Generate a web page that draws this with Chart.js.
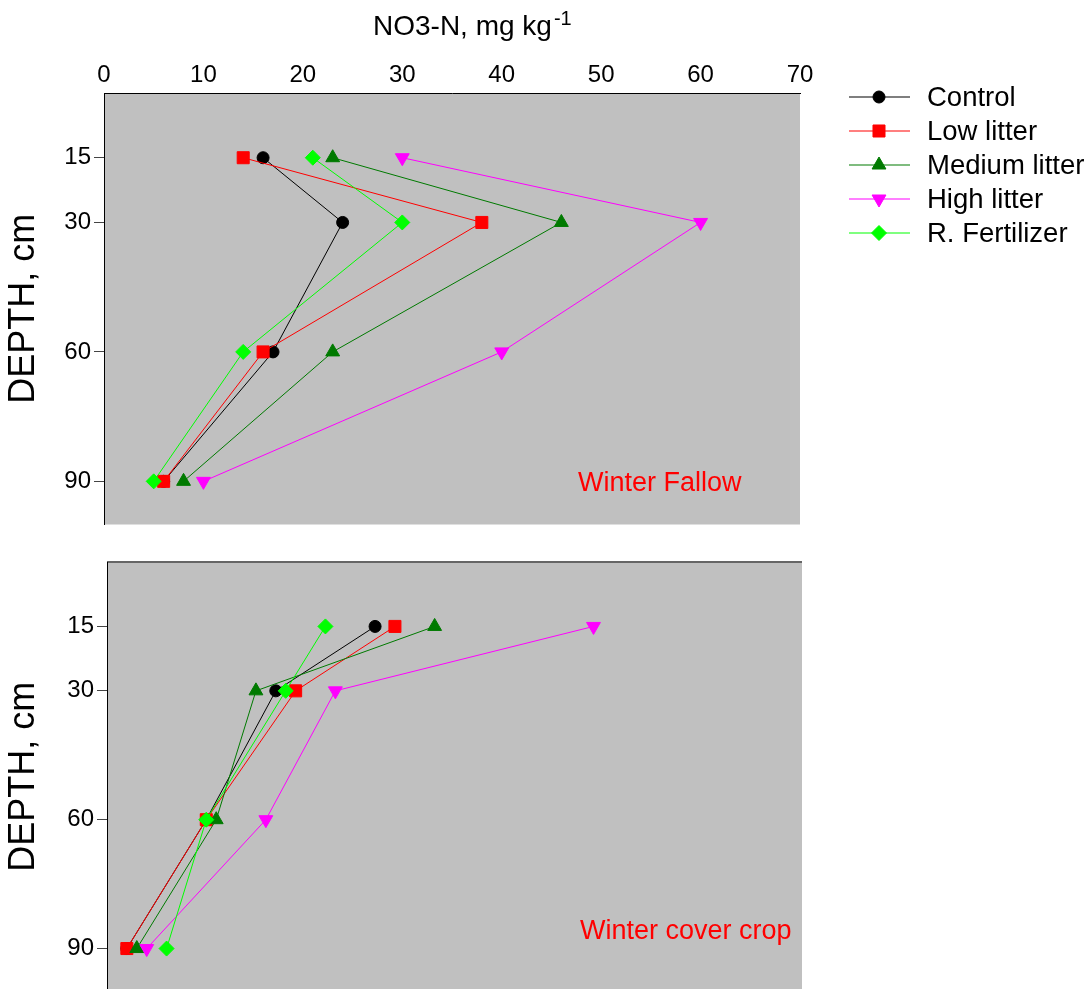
<!DOCTYPE html>
<html>
<head>
<meta charset="utf-8">
<title>NO3-N by depth</title>
<script src="https://cdn.jsdelivr.net/npm/chart.js@4.4.1/dist/chart.umd.min.js"></script>
<style>
    html, body { margin: 0; padding: 0; background: #fff; overflow: hidden; }
    #top-wrap { position: absolute; left: 0; top: 0; width: 1089px; height: 534px; }
    #bottom-wrap { position: absolute; left: 0; top: 530px; width: 1089px; height: 471px; }
</style>
</head>
<body>
<div id="top-wrap"><canvas id="fallowChart"></canvas></div>
<div id="bottom-wrap"><canvas id="coverChart"></canvas></div>
<script>
// Depths (cm) and axis ticks
const depths = [15, 30, 60, 90];
const depthTicks = [15, 30, 60, 90];
const no3Ticks = [0, 10, 20, 30, 40, 50, 60, 70];
const seriesNames = ['Control', 'Low litter', 'Medium litter', 'High litter', 'R. Fertilizer'];

// Winter fallow, NO3-N mg/kg at each depth
const fallowControl = [16, 24, 17, 6];
const fallowLow = [14, 38, 16, 6];
const fallowMedium = [23, 46, 23, 8];
const fallowHigh = [30, 60, 40, 10];
const fallowFert = [21, 30, 14, 5];

// Winter cover crop
const coverControl = [27, 17, 10, 2];
const coverLow = [29, 19, 10, 2];
const coverMedium = [33, 15, 11, 3];
const coverHigh = [49, 23, 16, 4];
const coverFert = [22, 18, 10, 6];

// Look of each series (same order as seriesNames)
const seriesStyles = [
    { color: '#000000', pointStyle: 'circle', radius: 6, rotation: 0 },
    { color: '#ff0000', pointStyle: 'rect', radius: 8.5, rotation: 0 },
    { color: '#007a00', pointStyle: 'triangle', radius: 8, rotation: 0 },
    { color: '#ff00ff', pointStyle: 'triangle', radius: 8, rotation: 180 },
    { color: '#00ff00', pointStyle: 'rectRot', radius: 7.5, rotation: 0 }
];

Chart.defaults.font.family = '"Liberation Sans", Arial, sans-serif';
Chart.defaults.color = '#000';

function buildDatasets(valueLists) {
    return valueLists.map(function(vals, i) {
        const st = seriesStyles[i];
        return {
            label: seriesNames[i],
            data: vals.map((v, j) => ({ x: v, y: depths[j] })),
            showLine: true,
            borderColor: st.color,
            backgroundColor: st.color,
            borderWidth: 1,
            pointStyle: st.pointStyle,
            pointRadius: st.radius,
            pointRotation: st.rotation,
            pointBorderWidth: 1,
            pointBorderColor: st.color,
            pointBackgroundColor: st.color,
            order: seriesNames.length - 1 - i   // last series ends up on top
        };
    });
}

// Gray plot area, optional gray top edge
const panelBackground = {
    id: 'panelBackground',
    beforeDraw(chart, args, opts) {
        const { ctx, chartArea: a } = chart;
        ctx.save();
        ctx.fillStyle = '#c0c0c0';
        ctx.fillRect(a.left, a.top, a.right - a.left, a.bottom - a.top);
        if (opts.topBorder) {
            ctx.strokeStyle = '#666666';
            ctx.lineWidth = 2;
            ctx.beginPath();
            ctx.moveTo(a.left, a.top);
            ctx.lineTo(a.right, a.top);
            ctx.stroke();
        }
        ctx.restore();
    }
};

// Red treatment label inside the panel
const panelLabel = {
    id: 'panelLabel',
    afterDraw(chart, args, opts) {
        if (!opts.text) return;
        const { ctx, chartArea: a } = chart;
        ctx.save();
        ctx.fillStyle = '#ff0000';
        ctx.font = '27px "Liberation Sans", Arial, sans-serif';
        ctx.textAlign = 'left';
        ctx.textBaseline = 'middle';
        ctx.fillText(opts.text, a.right - opts.fromRight, a.bottom - opts.fromBottom);
        ctx.restore();
    }
};

// X title with superscript, above the top axis
const topTitle = {
    id: 'topTitle',
    afterDraw(chart) {
        const { ctx, chartArea: a } = chart;
        ctx.save();
        ctx.fillStyle = '#000';
        ctx.textAlign = 'left';
        ctx.textBaseline = 'alphabetic';
        ctx.font = '28px "Liberation Sans", Arial, sans-serif';
        const main = 'NO3-N, mg kg';
        const x0 = a.left + 269;
        ctx.fillText(main, x0, 35);
        const w = ctx.measureText(main).width;
        ctx.font = '20px "Liberation Sans", Arial, sans-serif';
        ctx.fillText('-1', x0 + w + 2, 25);
        ctx.restore();
    }
};

// Legend with line + marker, right of the top panel
const sideLegend = {
    id: 'sideLegend',
    afterDraw(chart) {
        const { ctx, chartArea: a } = chart;
        ctx.save();
        chart.data.datasets.forEach(function(ds, i) {
            const y = 97 + i * 34;
            const x1 = a.right + 49, x2 = a.right + 110, xm = a.right + 79;
            ctx.strokeStyle = ds.borderColor;
            ctx.lineWidth = 1.2;
            ctx.beginPath();
            ctx.moveTo(x1, y);
            ctx.lineTo(x2, y);
            ctx.stroke();
            ctx.fillStyle = ds.pointBackgroundColor;
            ctx.strokeStyle = ds.pointBorderColor;
            ctx.lineWidth = 1;
            Chart.helpers.drawPoint(ctx, {
                pointStyle: ds.pointStyle,
                radius: ds.pointRadius,
                rotation: ds.pointRotation,
                borderWidth: 1
            }, xm, y);
            ctx.fillStyle = '#000';
            ctx.font = '27.5px "Liberation Sans", Arial, sans-serif';
            ctx.textAlign = 'left';
            ctx.textBaseline = 'middle';
            ctx.fillText(ds.label, a.right + 127, y + 1);
        });
        ctx.restore();
    }
};

function depthAxis(width) {
    return {
        type: 'linear',
        reverse: true,
        min: 0,
        max: 100,
        afterBuildTicks: s => { s.ticks = depthTicks.map(v => ({ value: v })); },
        // fixed axis width, no extra room for half tick labels
        afterFit: s => { s.width = width; s.paddingTop = 0; s.paddingBottom = 0; },
        ticks: { color: '#000', font: { size: 24 }, padding: 3 },
        grid: { drawOnChartArea: false, drawTicks: true, tickLength: 10, color: '#444' },
        border: { display: true, color: '#000', width: 1 },
        title: { display: true, text: 'DEPTH, cm', color: '#000', font: { size: 36 }, padding: { top: 2, bottom: 0 } }
    };
}

// Top panel: winter fallow
new Chart(document.getElementById('fallowChart'), {
    type: 'scatter',
    data: { datasets: buildDatasets([fallowControl, fallowLow, fallowMedium, fallowHigh, fallowFert]) },
    options: {
        responsive: true,
        maintainAspectRatio: false,
        animation: false,
        layout: { padding: { top: 0, left: 0, right: 289, bottom: 0 } },
        scales: {
            x: {
                type: 'linear',
                position: 'top',
                min: 0,
                max: 70,
                afterBuildTicks: s => { s.ticks = no3Ticks.map(v => ({ value: v })); },
                afterFit: s => { s.height = 93; s.paddingLeft = 0; s.paddingRight = 0; },
                ticks: { color: '#000', font: { size: 24 }, padding: 3, maxRotation: 0, autoSkip: false },
                grid: { display: false, drawTicks: false },
                border: { display: true, color: '#000', width: 1 }
            },
            y: depthAxis(104)
        },
        plugins: {
            legend: { display: false },
            tooltip: { enabled: false },
            panelBackground: { topBorder: false },
            panelLabel: { text: 'Winter Fallow', fromRight: 222, fromBottom: 41 }
        }
    },
    plugins: [panelBackground, panelLabel, topTitle, sideLegend]
});

// Bottom panel: winter cover crop
new Chart(document.getElementById('coverChart'), {
    type: 'scatter',
    data: { datasets: buildDatasets([coverControl, coverLow, coverMedium, coverHigh, coverFert]) },
    options: {
        responsive: true,
        maintainAspectRatio: false,
        animation: false,
        layout: { padding: { top: 32, left: 0, right: 287, bottom: 0 } },
        scales: {
            x: { type: 'linear', display: false, min: 0, max: 70 },
            y: depthAxis(107)
        },
        plugins: {
            legend: { display: false },
            tooltip: { enabled: false },
            panelBackground: { topBorder: true },
            panelLabel: { text: 'Winter cover crop', fromRight: 222, fromBottom: 60 }
        }
    },
    plugins: [panelBackground, panelLabel]
});
</script>
</body>
</html>
